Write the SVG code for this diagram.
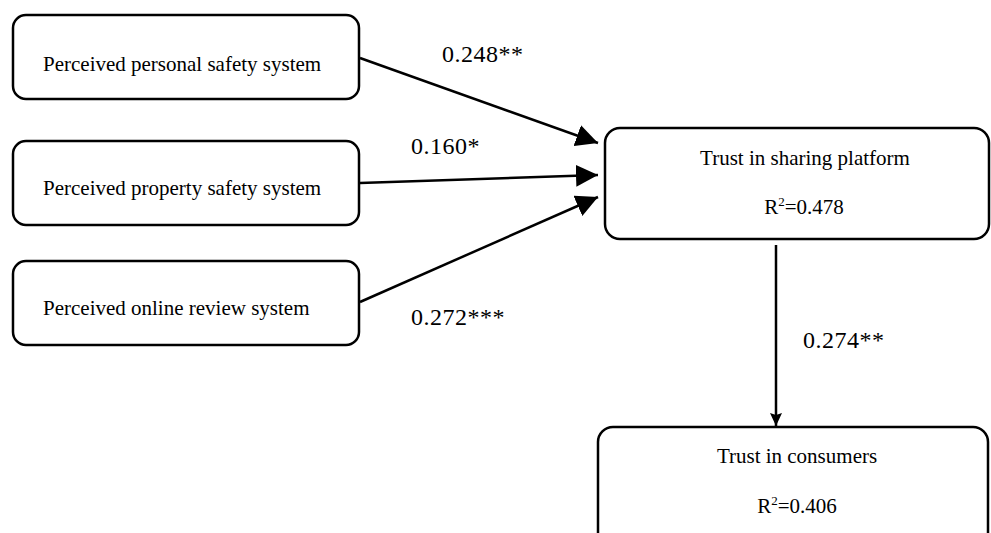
<svg xmlns="http://www.w3.org/2000/svg" width="991" height="533" viewBox="0 0 991 533">
<style>
.box{fill:#fff;stroke:#000;stroke-width:2.5}
.t{font-family:"Liberation Serif","Times New Roman",serif;font-size:21px;fill:#000}
.c{text-anchor:middle}
.lbl{font-family:"Liberation Serif","Times New Roman",serif;font-size:24px;fill:#000;letter-spacing:0.5px}
.conn{stroke:#000;stroke-width:2.5;fill:none}
</style>
<defs>
<marker id="big" markerUnits="userSpaceOnUse" markerWidth="24" markerHeight="22" refX="22" refY="11" orient="auto" viewBox="0 0 24 22">
<path d="M0,0 L22,11 L0,22 Z" fill="#000"/>
</marker>
<marker id="small" markerUnits="userSpaceOnUse" markerWidth="14" markerHeight="14" refX="13" refY="7" orient="auto" viewBox="0 0 14 14">
<path d="M0,1 L13,7 L0,13 L2,7 Z" fill="#000"/>
</marker>
</defs>
<g id="n1"><rect class="box" x="13" y="15" width="346" height="84" rx="13"/><text class="t" x="43" y="71">Perceived personal safety system</text></g>
<g id="n2"><rect class="box" x="13" y="141" width="346" height="84" rx="13"/><text class="t" x="43" y="195">Perceived property safety system</text></g>
<g id="n3"><rect class="box" x="13" y="261" width="346" height="84" rx="13"/><text class="t" x="43" y="315">Perceived online review system</text></g>
<g id="n4"><rect class="box" x="605" y="128" width="384" height="111" rx="15"/><text class="t c" x="805" y="165">Trust in sharing platform</text><text class="t c" x="804" y="214">R<tspan font-size="13" dy="-8">2</tspan><tspan dy="8">=0.478</tspan></text></g>
<g id="n5"><rect class="box" x="598" y="427" width="390" height="130" rx="15"/><text class="t c" x="797" y="463">Trust in consumers</text><text class="t c" x="797" y="513">R<tspan font-size="13" dy="-8">2</tspan><tspan dy="8">=0.406</tspan></text></g>
<g id="connectors">
<line class="conn" x1="360" y1="58" x2="598" y2="143" marker-end="url(#big)"/>
<line class="conn" x1="360" y1="183" x2="598" y2="175" marker-end="url(#big)"/>
<line class="conn" x1="360" y1="302" x2="598" y2="197" marker-end="url(#big)"/>
<line class="conn" x1="776" y1="245" x2="776" y2="426" marker-end="url(#small)"/>
<text class="lbl" x="442" y="62">0.248**</text>
<text class="lbl" x="411" y="154">0.160*</text>
<text class="lbl" x="411" y="325">0.272***</text>
<text class="lbl" x="803" y="348">0.274**</text>
</g>
</svg>
